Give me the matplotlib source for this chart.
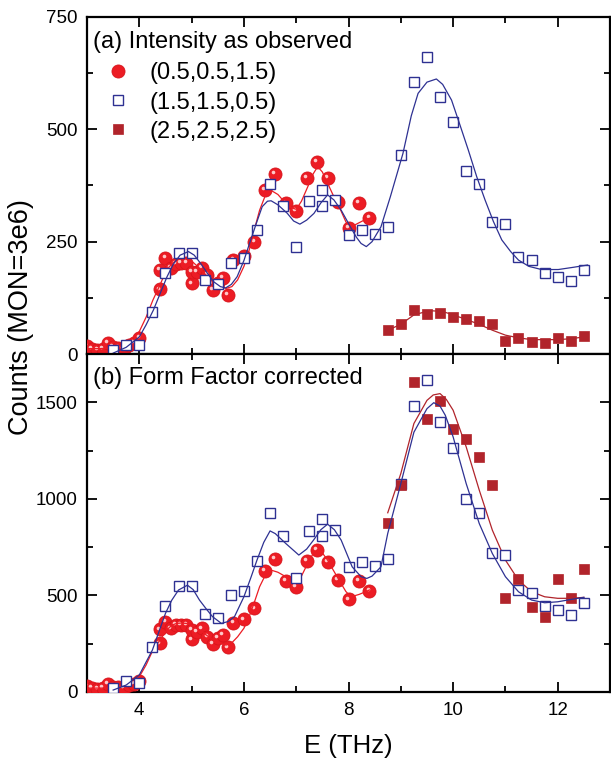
#!/usr/bin/env python3

import matplotlib
matplotlib.use('Agg')
import matplotlib.pyplot as plt
from matplotlib.ticker import MultipleLocator
from matplotlib.transforms import offset_copy

plt.rcParams['font.family'] = ['Liberation Sans', 'DejaVu Sans']

# (0.5,0.5,1.5) measured points - same energies in both panels
E_q1 = [3.0, 3.1, 3.2, 3.3, 3.4, 3.5, 3.6, 3.7, 3.8, 3.9, 4.0,
        4.4, 4.4, 4.5, 4.6, 4.7, 4.8, 4.9, 5.0, 5.0, 5.1, 5.2, 5.3, 5.4, 5.5, 5.6, 5.7,
        5.8, 6.0, 6.2, 6.4, 6.6, 6.8, 7.0, 7.2, 7.4, 7.6, 7.8, 8.0, 8.2, 8.4]
I_q1 = [18, 12, 10, 12, 25, 15, 14, 12, 20, 25, 36,
        144, 187, 213, 191, 200, 202, 202, 157, 183, 183, 191, 176, 142, 157, 169, 131,
        209, 217, 250, 365, 400, 335, 318, 392, 427, 392, 339, 280, 336, 302]
F_q1 = [30, 20, 18, 22, 42, 28, 25, 22, 35, 42, 55,
        252, 324, 364, 329, 347, 347, 347, 272, 321, 312, 329, 286, 248, 278, 295, 231,
        359, 376, 433, 628, 688, 576, 545, 679, 734, 674, 579, 479, 576, 522]

# (1.5,1.5,0.5)
E_q2 = [3.5, 3.75, 4.0, 4.25, 4.5, 4.75, 5.0, 5.25, 5.5, 5.75, 6.0, 6.25, 6.5, 6.75,
        7.0, 7.25, 7.5, 7.5, 7.75, 8.0, 8.25, 8.5, 8.75, 9.0, 9.25, 9.5, 9.75, 10.0,
        10.25, 10.5, 10.75, 11.0, 11.25, 11.5, 11.75, 12.0, 12.25, 12.5]
I_q2 = [9, 21, 20, 94, 181, 224, 224, 165, 155, 203, 213, 276, 378, 330,
        239, 341, 366, 330, 343, 265, 276, 266, 282, 442, 606, 660, 573, 516,
        408, 379, 293, 289, 215, 209, 181, 172, 162, 187]
F_q2 = [22, 57, 48, 234, 445, 550, 550, 403, 381, 502, 522, 678, 928, 809,
        588, 834, 895, 809, 838, 648, 674, 652, 690, 1079, 1481, 1614, 1398, 1264,
        998, 928, 721, 709, 528, 514, 445, 424, 398, 459]

# (2.5,2.5,2.5)
E_q3 = [8.75, 9.0, 9.25, 9.5, 9.75, 10.0, 10.25, 10.5, 10.75, 11.0, 11.25, 11.5,
        11.75, 12.0, 12.25, 12.5]
I_q3 = [53, 67, 98, 88, 92, 83, 79, 74, 66, 30, 35, 26, 24, 35, 30, 39]
F_q3 = [876, 1074, 1605, 1412, 1507, 1362, 1312, 1217, 1071, 488, 584, 441, 390,
        584, 488, 635]

# fitted curves
Ef_q1 = [3.0, 3.25, 3.5, 3.75, 4.0, 4.13, 4.26, 4.4, 4.52, 4.62, 4.71, 4.8, 4.9, 5.0,
         5.15, 5.28, 5.4, 5.53, 5.66, 5.77, 5.88, 6.0, 6.1, 6.2, 6.3, 6.4, 6.52, 6.65,
         6.8, 6.9, 7.0, 7.1, 7.22, 7.32, 7.41, 7.5, 7.6, 7.7, 7.82, 7.95, 8.05, 8.2,
         8.3, 8.4]
If_q1 = [12, 12, 14, 24, 50, 82, 120, 155, 187, 200, 209, 212, 213, 207,
         191, 175, 161, 150, 146, 150, 165, 195, 231, 277, 320, 350, 364, 355,
         335, 326, 322, 340, 372, 400, 417, 405, 380, 355, 328, 294, 283, 292,
         298, 302]
Ff_q1 = [20, 20, 22, 40, 79, 140, 217, 270, 320, 345, 355, 357, 355, 345,
         321, 295, 272, 255, 243, 255, 286, 330, 390, 465, 545, 600, 631, 620,
         597, 578, 571, 600, 666, 715, 738, 720, 683, 635, 579, 520, 493, 505,
         516, 528]

Ef_q2 = [3.5, 3.75, 4.0, 4.13, 4.27, 4.4, 4.53, 4.65, 4.78, 4.94, 5.05, 5.17, 5.3,
         5.42, 5.55, 5.65, 5.76, 5.87, 6.0, 6.13, 6.25, 6.35, 6.45, 6.52, 6.65, 6.83,
         6.95, 7.07, 7.2, 7.34, 7.47, 7.6, 7.72, 7.86, 8.05, 8.15, 8.24, 8.34, 8.45,
         8.62, 8.8, 9.04, 9.2, 9.33, 9.5, 9.68, 9.8, 9.97, 10.13, 10.29, 10.45,
         10.61, 10.77, 10.93, 11.1, 11.25, 11.45, 11.69, 12.01, 12.3, 12.57]
If_q2 = [2, 15, 38, 65, 98, 135, 172, 200, 220, 228, 220, 202, 180,
         161, 150, 147, 155, 172, 208, 254, 295, 328, 340, 341, 332, 313,
         296, 289, 298, 313, 336, 354, 343, 320, 280, 260, 246, 239, 250,
         283, 350, 446, 530, 580, 605, 612, 600, 565, 510, 454, 395,
         343, 295, 254, 228, 209, 195, 188, 188, 193, 198]
Ef2_q2 = [3.5, 3.75, 4.0, 4.25, 4.5, 4.62, 4.75, 4.92, 5.03, 5.15, 5.28, 5.4, 5.57,
          5.7, 5.82, 6.0, 6.13, 6.25, 6.38, 6.5, 6.6, 6.8, 7.05, 7.2, 7.33, 7.47, 7.6,
          7.73, 7.86, 8.07, 8.24, 8.35, 8.45, 8.62, 8.75, 9.0, 9.25, 9.5, 9.63, 9.75,
          9.85, 10.0, 10.25, 10.5, 10.75, 11.0, 11.25, 11.5, 11.75, 12.0, 12.25, 12.5]
Ff_q2 = [10, 36, 88, 217, 407, 475, 528, 553, 530, 476, 430, 390, 355,
         365, 390, 493, 590, 683, 775, 834, 820, 769, 709, 740, 786, 840, 869,
         840, 786, 648, 597, 588, 600, 648, 821, 1079, 1345, 1467, 1498, 1480,
         1433, 1321, 1079, 872, 717, 597, 519, 476, 462, 467, 479, 490]

Ef_q3 = [8.75, 9.0, 9.25, 9.5, 9.62, 9.75, 9.87, 10.0, 10.25, 10.5, 10.75, 11.0,
         11.25, 11.5, 11.75, 12.0, 12.25, 12.5]
If_q3 = [53, 66, 87, 95, 96, 95, 92, 87, 77, 66, 53, 42, 36, 32, 32, 32, 34, 38]
Ff_q3 = [928, 1131, 1390, 1510, 1538, 1545, 1515, 1459, 1269, 1045, 838, 683,
         579, 519, 493, 485, 485, 490]

red = '#ec1c24'
blue = '#2e3192'
dred = '#b1242b'

fig = plt.figure(figsize=(6.11, 7.61), dpi=100)
ax1 = fig.add_axes([0.1424, 0.5348, 0.856, 0.4429])
ax2 = fig.add_axes([0.1424, 0.0907, 0.856, 0.4441])


def spheres(ax, x, y, label=None):
    ax.plot(x, y, 'o', ms=9.4, mfc=red, mec='#d8141b', mew=0.6, label=label, zorder=3)
    hl = offset_copy(ax.transData, fig=fig, x=-1.8, y=1.8, units='dots')
    ax.plot(x, y, 'o', ms=2.6, mfc='#ffc8c8', mec='none', transform=hl, zorder=3.1)


for ax, yq1, yq2, yq3, fq1, fq2x, fq2, fq3 in [
        (ax1, I_q1, I_q2, I_q3, If_q1, Ef_q2, If_q2, If_q3),
        (ax2, F_q1, F_q2, F_q3, Ff_q1, Ef2_q2, Ff_q2, Ff_q3)]:
    spheres(ax, E_q1, yq1, label='(0.5,0.5,1.5)')
    ax.plot(Ef_q1, fq1, '-', color=red, lw=0.9, zorder=4)
    ax.plot(E_q2, yq2, 's', ms=7, mfc='white', mec=blue, mew=1.0,
            label='(1.5,1.5,0.5)', zorder=5)
    ax.plot(E_q3, yq3, 's', ms=7.6, mfc=dred, mec=dred, mew=0.5,
            label='(2.5,2.5,2.5)', zorder=5)
    ax.plot(Ef_q3, fq3, '-', color=dred, lw=0.9, zorder=4)
    ax.plot(fq2x, fq2, '-', color=blue, lw=0.9, zorder=6)

    ax.set_xlim(3, 13)
    ax.xaxis.set_major_locator(MultipleLocator(2))
    ax.xaxis.set_minor_locator(MultipleLocator(1))
    ax.tick_params(which='both', direction='in', top=True, right=True,
                   labelsize=13.5, width=1.3, pad=7)
    ax.tick_params(which='major', length=7)
    ax.tick_params(which='minor', length=4)
    for s in ax.spines.values():
        s.set_linewidth(1.6)

ax1.set_ylim(0, 750)
ax1.yaxis.set_major_locator(MultipleLocator(250))
ax1.yaxis.set_minor_locator(MultipleLocator(125))
ax1.tick_params(labelbottom=False)

ax2.set_ylim(0, 1750)
ax2.set_yticks([0, 500, 1000, 1500])
ax2.yaxis.set_minor_locator(MultipleLocator(250))

ax1.text(0.012, 0.926, '(a) Intensity as observed', transform=ax1.transAxes,
         fontsize=17, ha='left', va='center')
ax2.text(0.012, 0.929, '(b) Form Factor corrected', transform=ax2.transAxes,
         fontsize=17, ha='left', va='center')

ax1.legend(loc='upper left', bbox_to_anchor=(0.006, 0.914), frameon=False,
           fontsize=17, handlelength=1.0, handletextpad=0.8, labelspacing=0.3,
           borderpad=0.2, numpoints=1)

ax2.set_xlabel('E (THz)', fontsize=18.5, labelpad=11)
fig.text(0.034, 0.584, 'Counts (MON=3e6)', rotation=90, fontsize=19.5,
         ha='center', va='center')

fig.savefig('out.png', dpi=100)
